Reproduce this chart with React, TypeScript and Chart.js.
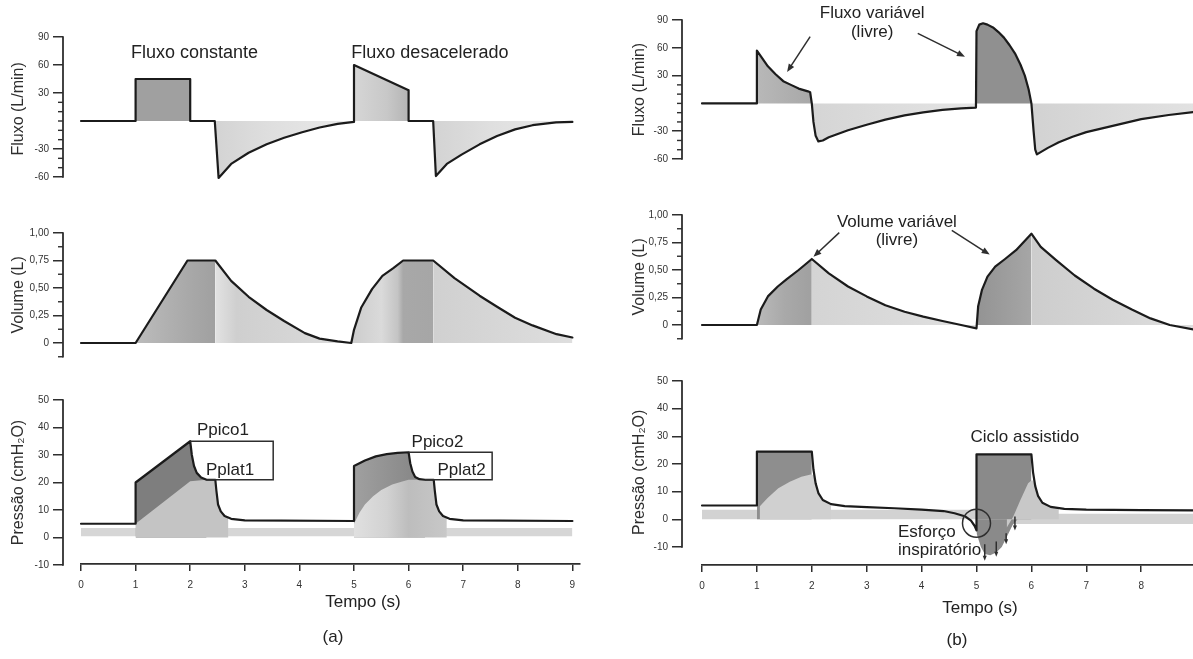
import React, { useEffect, useRef } from 'react';
import { Chart, registerables } from 'chart.js';

Chart.register(...registerables);

const FONT = "'Liberation Sans', Arial, Helvetica, sans-serif";
Chart.defaults.font.family = FONT;
Chart.defaults.color = '#2a2a2a';

// ---------------- tick labels ----------------
const TIME_TICKS = [0, 1, 2, 3, 4, 5, 6, 7, 8, 9];
const FLOW_TICKS = [-60, -30, 30, 60, 90];
const FLOW_MINOR = [-50, -40, -20, -10, 0, 10, 20];
const VOL_TICKS = [0, 0.25, 0.5, 0.75, 1];
const VOL_MINOR = [-0.125, 0.125, 0.375, 0.625, 0.875];
const PRES_TICKS = [-10, 0, 10, 20, 30, 40, 50];

// ---------------- (a) series ----------------
const FLOW_A_T = [0, 1, 1, 2, 2, 2.45, 2.52, 2.75, 3.07, 3.4, 3.72, 4.05, 4.37, 4.7, 5, 5, 6, 6, 6.45, 6.5, 6.7, 6.97, 7.3, 7.62, 7.95, 8.27, 8.7, 9];
const FLOW_A_V = [0, 0, 45, 45, 0, 0, -61, -46, -34, -25, -18, -12, -7, -3, -1, 60, 33, 0, 0, -59, -46, -36, -25, -16, -9, -4.5, -1.5, -1];

const VOL_A_T = [0, 1, 1.95, 2.46, 2.75, 3.07, 3.4, 3.72, 4.1, 4.37, 4.7, 4.95, 5.0, 5.13, 5.33, 5.52, 5.72, 5.9, 6.45, 6.84, 7.3, 7.62, 7.95, 8.27, 8.71, 9.0];
const VOL_A_V = [0, 0, 0.75, 0.75, 0.565, 0.42, 0.3, 0.2, 0.09, 0.04, 0.015, 0, 0.12, 0.32, 0.49, 0.61, 0.68, 0.75, 0.75, 0.59, 0.43, 0.33, 0.23, 0.16, 0.08, 0.05];

const PRES_A_T = [0, 1, 1, 2, 2.03, 2.07, 2.12, 2.2, 2.3, 2.46, 2.48, 2.51, 2.56, 2.63, 2.75, 3.0, 5, 5, 5.2, 5.4, 5.6, 5.8, 6.0, 6.03, 6.07, 6.12, 6.2, 6.3, 6.46, 6.48, 6.51, 6.56, 6.63, 6.75, 7.0, 9.0];
const PRES_A_V = [5, 5, 20, 35, 30, 26, 23.5, 21.8, 21, 21, 17, 12, 9.5, 7.8, 6.8, 6.2, 6, 26, 28, 29.5, 30.3, 30.8, 31, 27, 24, 22, 21.2, 21, 21, 17, 12, 9.5, 7.8, 6.8, 6.2, 6];

const PALV_A1_T = [1, 2, 2.3, 2.46, 2.48, 2.51, 2.56, 2.63, 2.7];
const PALV_A1_V = [5, 20.5, 21, 21, 17, 12, 9.5, 7.8, 7.2];
const PALV_A2_T = [5, 5.1, 5.2, 5.35, 5.5, 5.7, 5.9, 6.0, 6.2, 6.46, 6.48, 6.51, 6.56, 6.63, 6.7];
const PALV_A2_V = [5, 9, 12, 15, 17.3, 19.3, 20.5, 21, 21, 21, 17, 12, 9.5, 7.8, 7.2];

const BAND_A_T = [0, 9];
const BAND_A_LO = [0.5, 0.5];
const BAND_A_HI = [3.5, 3.5];

// ---------------- (b) series ----------------
const FLOW_B_T = [0, 1, 1, 1.07, 1.2, 1.34, 1.48, 1.62, 1.76, 1.93, 1.97, 2.0, 2.03, 2.07, 2.12, 2.2, 2.31, 2.66, 3.0, 3.34, 3.69, 4.03, 4.38, 4.72, 4.99, 5.0, 5.05, 5.12, 5.2, 5.3, 5.4, 5.5, 5.6, 5.7, 5.8, 5.88, 5.95, 6.0, 6.04, 6.07, 6.1, 6.3, 6.5, 6.75, 7.0, 7.5, 8.0, 8.5, 9.0];
const FLOW_B_V = [0, 0, 57, 51, 40, 31.5, 24, 20, 16, 13, 12, 0, -20, -35, -41, -40, -36.5, -29, -23, -17.5, -13, -9.7, -7, -5.4, -4.5, 78, 85, 86.5, 85, 82, 77, 71, 63, 54, 42, 30, 15, 0, -30, -50, -55, -48, -42, -36, -31, -24, -17, -12.5, -9];

const VOL_B_T = [0, 1, 1.07, 1.2, 1.38, 1.55, 1.76, 2.0, 2.31, 2.66, 3.0, 3.34, 3.69, 4.03, 4.38, 4.72, 5.0, 5.03, 5.1, 5.2, 5.34, 5.52, 5.72, 6.0, 6.17, 6.45, 6.79, 7.14, 7.48, 7.83, 8.17, 8.52, 9.0];
const VOL_B_V = [0, 0, 0.14, 0.26, 0.35, 0.42, 0.5, 0.6, 0.47, 0.35, 0.26, 0.18, 0.12, 0.076, 0.036, 0, -0.03, 0.17, 0.32, 0.44, 0.53, 0.6, 0.68, 0.83, 0.71, 0.59, 0.45, 0.33, 0.23, 0.14, 0.06, 0, -0.045];

const PRES_B_T = [0, 1, 1, 2, 2.03, 2.07, 2.12, 2.2, 2.35, 2.6, 3.0, 3.5, 4.0, 4.4, 4.6, 4.8, 4.9, 4.97, 5.0, 5.0, 6.0, 6.03, 6.07, 6.12, 6.2, 6.35, 6.6, 7.0, 8.0, 9.0];
const PRES_B_V = [5, 5, 24.5, 24.5, 18, 13, 9.5, 7, 5.5, 4.8, 4.4, 4.0, 3.5, 3.0, 2.2, 1.0, -0.5, -2.5, -4, 23.5, 23.5, 17, 12, 8.5, 6, 4.5, 3.8, 3.5, 3.3, 3.2];

const PIN_B1_T = [1.05, 1.19, 1.39, 1.6, 1.81, 1.98, 2.03, 2.07, 2.12, 2.2, 2.35];
const PIN_B1_V = [4.6, 7.6, 11.2, 13.6, 15.4, 16.2, 16, 13, 9.5, 7, 5.5];
const DIP_B_T = [5.0, 5.08, 5.15, 5.25, 5.36, 5.46, 5.56, 5.66, 5.75];
const DIP_B_V = [-5, -10, -12.5, -13, -12, -10, -6, -2, 0];
const PIN_B2_T = [5.55, 5.67, 5.8, 5.94, 6.0, 6.03, 6.07, 6.12, 6.2, 6.35, 6.5];
const PIN_B2_V = [-3, 1, 7, 13, 14, 14, 12, 8.5, 6, 4.5, 3.8];

const BAND_B_T = [0, 5, 5, 9];
const BAND_B_LO = [0, 0, -1.7, -1.7];
const BAND_B_HI = [3.5, 3.5, 2, 2];

// ---------------- helpers ----------------
type P = { x: number; y: number };
const pts = (t: number[], v: number[]): P[] => t.map((x, i) => ({ x, y: v[i] }));
const part = (t: number[], v: number[], t0: number, t1: number, sign = 0): P[] =>
  pts(t, v).filter((p) => p.x >= t0 && p.x <= t1 && (sign === 0 || (sign > 0 ? p.y >= 0 : p.y <= 0)));

const shade = (stops: [number, string][] | string) => {
  if (typeof stops === 'string') return stops;
  return (c: any) => {
    const ch = c.chart;
    const xs = ch.scales && ch.scales.x;
    if (!ch.chartArea || !xs) return stops[0][1];
    const x0 = xs.getPixelForValue(stops[0][0]);
    const x1 = xs.getPixelForValue(stops[stops.length - 1][0]);
    const g = ch.ctx.createLinearGradient(x0, 0, x1, 0);
    stops.forEach(([t, col]) => {
      const o = (xs.getPixelForValue(t) - x0) / (x1 - x0 || 1);
      g.addColorStop(Math.min(1, Math.max(0, o)), col);
    });
    return g;
  };
};

const fillDs = (data: P[], color: any, order: number) => ({
  data, borderWidth: 0, borderColor: 'rgba(0,0,0,0)', backgroundColor: shade(color),
  pointRadius: 0, fill: 'origin', order, tension: 0,
});
const lineDs = (data: P[]) => ({
  data, borderColor: '#1b1b1b', borderWidth: 2.2, pointRadius: 0, fill: false,
  order: 0, tension: 0, clip: false, borderJoinStyle: 'round', borderCapStyle: 'round',
});
const bandDs = (t: number[], lo: number[], hi: number[], color: string) => [
  { data: pts(t, lo), borderWidth: 0, pointRadius: 0, fill: false, order: 100, tension: 0 },
  { data: pts(t, hi), borderWidth: 0, borderColor: 'rgba(0,0,0,0)', pointRadius: 0, fill: '-1', backgroundColor: color, order: 100, tension: 0 },
];

// ---------------- layout ----------------
type Col = { left: number; width: number; axisX: number; t0X: number; pps: number; rightX: number; axisY: number; titleX: number };
const COL_A: Col = { left: 0, width: 600, axisX: 63, t0X: 81, pps: 54.6, rightX: 580, axisY: 564, titleX: 19 };
const COL_B: Col = { left: 600, width: 593, axisX: 682, t0X: 702, pps: 54.9, rightX: 1193, axisY: 565, titleX: 640 };

type Txt = { t: number; v: number; s: string; align?: CanvasTextAlign; size?: number };
type Arr = { t1: number; v1: number; t2: number; v2: number; head?: number };
type PanelSpec = {
  key: string; col: Col; axisTopPx: number; axisBotPx: number; axisMax: number; axisMin: number; yMin: number;
  ticks: number[]; minor: number[]; fmt: (v: number) => string; title: string; build: () => any[];
  texts?: Txt[]; arrows?: Arr[]; polylines?: number[][][]; circles?: { t: number; v: number; r: number }[];
};

const fmtInt = (v: number) => String(v);
const fmtVol = (v: number) => (v === 0 ? '0' : v.toFixed(2).replace('.', ','));

const PANELS: PanelSpec[] = [
  {
    key: 'aflow', col: COL_A, axisTopPx: 37, axisBotPx: 177, axisMax: 90, axisMin: -60, yMin: -64,
    ticks: FLOW_TICKS, minor: FLOW_MINOR, fmt: fmtInt, title: 'Fluxo (L/min)',
    build: () => [
      fillDs(part(FLOW_A_T, FLOW_A_V, 1, 2, 1), '#a0a0a0', 20),
      fillDs(part(FLOW_A_T, FLOW_A_V, 5, 6, 1), [[5, '#d6d6d6'], [5.6, '#c8c8c8'], [6, '#b4b4b4']], 20),
      fillDs(part(FLOW_A_T, FLOW_A_V, 2, 5, -1), [[2.45, '#d3d3d3'], [3.5, '#dfdfdf'], [5, '#eaeaea']], 20),
      fillDs(part(FLOW_A_T, FLOW_A_V, 6, 9, -1), [[6.45, '#d3d3d3'], [7.5, '#dfdfdf'], [9, '#eaeaea']], 20),
      lineDs(pts(FLOW_A_T, FLOW_A_V)),
    ],
    texts: [
      { t: 2.08, v: 73, s: 'Fluxo constante', size: 18 },
      { t: 6.39, v: 73, s: 'Fluxo desacelerado', size: 18 },
    ],
  },
  {
    key: 'avol', col: COL_A, axisTopPx: 233, axisBotPx: 356.75, axisMax: 1, axisMin: -0.125, yMin: -0.125,
    ticks: VOL_TICKS, minor: VOL_MINOR, fmt: fmtVol, title: 'Volume (L)',
    build: () => [
      fillDs(part(VOL_A_T, VOL_A_V, 1, 2.46), [[1, '#bcbcbc'], [1.95, '#a9a9a9'], [2.46, '#a0a0a0']], 20),
      fillDs(part(VOL_A_T, VOL_A_V, 2.46, 4.95), [[2.46, '#e2e2e2'], [2.85, '#cfcfcf'], [4.95, '#dcdcdc']], 20),
      fillDs(part(VOL_A_T, VOL_A_V, 4.95, 6.45), [[4.95, '#cccccc'], [5.5, '#dadada'], [5.8, '#c4c4c4'], [5.9, '#a8a8a8'], [6.45, '#a6a6a6']], 20),
      fillDs(part(VOL_A_T, VOL_A_V, 6.45, 9), [[6.45, '#d0d0d0'], [9, '#dedede']], 20),
      lineDs(pts(VOL_A_T, VOL_A_V)),
    ],
  },
  {
    key: 'apres', col: COL_A, axisTopPx: 400, axisBotPx: 565, axisMax: 50, axisMin: -10, yMin: -10,
    ticks: PRES_TICKS, minor: [], fmt: fmtInt, title: 'Pressão (cmH₂O)',
    build: () => [
      ...bandDs(BAND_A_T, BAND_A_LO, BAND_A_HI, '#d6d6d6'),
      fillDs(part(PRES_A_T, PRES_A_V, 1, 2.3, 1), '#7e7e7e', 50),
      fillDs(part(PRES_A_T, PRES_A_V, 5, 6.3, 1), [[5, '#a0a0a0'], [6, '#8a8a8a']], 50),
      fillDs(pts(PALV_A1_T, PALV_A1_V), '#c4c4c4', 40),
      fillDs(pts(PALV_A2_T, PALV_A2_V), [[5, '#e0e0e0'], [5.6, '#d2d2d2'], [6, '#bdbdbd'], [6.7, '#c8c8c8']], 40),
      lineDs(pts(PRES_A_T, PRES_A_V)),
    ],
    polylines: [
      [[2, 35], [3.52, 35], [3.52, 21], [2.3, 21]],
      [[6, 31], [7.53, 31], [7.53, 21], [6.3, 21]],
    ],
    texts: [
      { t: 2.6, v: 39, s: 'Ppico1', size: 17 },
      { t: 2.73, v: 24.5, s: 'Pplat1', size: 17 },
      { t: 6.53, v: 34.7, s: 'Ppico2', size: 17 },
      { t: 6.97, v: 24.5, s: 'Pplat2', size: 17 },
    ],
  },
  {
    key: 'bflow', col: COL_B, axisTopPx: 20, axisBotPx: 159, axisMax: 90, axisMin: -60, yMin: -60,
    ticks: FLOW_TICKS, minor: FLOW_MINOR, fmt: fmtInt, title: 'Fluxo (L/min)',
    build: () => [
      fillDs(part(FLOW_B_T, FLOW_B_V, 1, 2, 1), [[1, '#b8b8b8'], [2, '#a8a8a8']], 20),
      fillDs(part(FLOW_B_T, FLOW_B_V, 2, 5, -1), [[2, '#d5d5d5'], [5, '#e4e4e4']], 20),
      fillDs(part(FLOW_B_T, FLOW_B_V, 5, 6, 1), '#909090', 20),
      fillDs(part(FLOW_B_T, FLOW_B_V, 6, 9, -1), [[6, '#d2d2d2'], [9, '#e2e2e2']], 20),
      lineDs(pts(FLOW_B_T, FLOW_B_V)),
    ],
    texts: [
      { t: 3.1, v: 97, s: 'Fluxo variável', size: 17 },
      { t: 3.1, v: 77, s: '(livre)', size: 17 },
    ],
    arrows: [
      { t1: 1.97, v1: 72, t2: 1.55, v2: 34 },
      { t1: 3.93, v1: 75.6, t2: 4.79, v2: 50.4 },
    ],
  },
  {
    key: 'bvol', col: COL_B, axisTopPx: 215, axisBotPx: 338.75, axisMax: 1, axisMin: -0.125, yMin: -0.125,
    ticks: VOL_TICKS, minor: VOL_MINOR, fmt: fmtVol, title: 'Volume (L)',
    build: () => [
      fillDs(part(VOL_B_T, VOL_B_V, 1, 2), [[1, '#bababa'], [1.5, '#a9a9a9'], [2, '#a0a0a0']], 20),
      fillDs(part(VOL_B_T, VOL_B_V, 2, 5), [[2, '#d4d4d4'], [5, '#e0e0e0']], 20),
      fillDs(part(VOL_B_T, VOL_B_V, 5, 6), [[5, '#939393'], [6, '#a6a6a6']], 20),
      fillDs(part(VOL_B_T, VOL_B_V, 6, 9), [[6, '#cdcdcd'], [9, '#dedede']], 20),
      lineDs(pts(VOL_B_T, VOL_B_V)),
    ],
    texts: [
      { t: 3.55, v: 0.936, s: 'Volume variável', size: 17 },
      { t: 3.55, v: 0.77, s: '(livre)', size: 17 },
    ],
    arrows: [
      { t1: 2.5, v1: 0.84, t2: 2.03, v2: 0.62 },
      { t1: 4.55, v1: 0.86, t2: 5.24, v2: 0.64 },
    ],
  },
  {
    key: 'bpres', col: COL_B, axisTopPx: 381, axisBotPx: 547, axisMax: 50, axisMin: -10, yMin: -16,
    ticks: PRES_TICKS, minor: [], fmt: fmtInt, title: 'Pressão (cmH₂O)',
    build: () => [
      ...bandDs(BAND_B_T, BAND_B_LO, BAND_B_HI, '#d2d2d2'),
      fillDs(part(PRES_B_T, PRES_B_V, 1, 2, 1), '#8e8e8e', 50),
      fillDs(part(PRES_B_T, PRES_B_V, 5, 6, 1), '#8a8a8a', 50),
      fillDs(pts(DIP_B_T, DIP_B_V), '#8a8a8a', 50),
      fillDs(pts(PIN_B1_T, PIN_B1_V), '#d0d0d0', 40),
      fillDs(pts(PIN_B2_T, PIN_B2_V), '#c8c8c8', 40),
      lineDs(pts(PRES_B_T, PRES_B_V)),
    ],
    texts: [
      { t: 5.88, v: 29.8, s: 'Ciclo assistido', size: 17 },
      { t: 3.57, v: -4.8, s: 'Esforço', size: 17, align: 'left' },
      { t: 3.57, v: -11.3, s: 'inspiratório', size: 17, align: 'left' },
    ],
    circles: [{ t: 5.0, v: -1.4, r: 14 }],
    arrows: [
      { t1: 5.15, v1: -9, t2: 5.15, v2: -15, head: 5 },
      { t1: 5.36, v1: -8, t2: 5.36, v2: -13.5, head: 5 },
      { t1: 5.54, v1: -5, t2: 5.54, v2: -9, head: 5 },
      { t1: 5.7, v1: 1, t2: 5.7, v2: -4, head: 5 },
    ],
  },
];

function notesPlugin(p: PanelSpec) {
  return {
    id: 'notes_' + p.key,
    afterDatasetsDraw(chart: any) {
      const { ctx, chartArea } = chart;
      const xs = chart.scales.x;
      const ys = chart.scales.y;
      const X = (t: number) => xs.getPixelForValue(t);
      const Y = (v: number) => ys.getPixelForValue(v);
      ctx.save();
      ctx.strokeStyle = '#2e2e2e';
      ctx.fillStyle = '#2e2e2e';
      // y axis line (only over the labelled range)
      ctx.lineWidth = 1.8;
      ctx.beginPath();
      ctx.moveTo(chartArea.left, Y(p.axisMax) - 0.8);
      ctx.lineTo(chartArea.left, Y(p.axisMin) + 0.8);
      ctx.stroke();
      ctx.lineWidth = 1.4;
      p.minor.forEach((v) => {
        ctx.beginPath();
        ctx.moveTo(chartArea.left - 5, Y(v));
        ctx.lineTo(chartArea.left, Y(v));
        ctx.stroke();
      });
      // bracket lines
      ctx.lineWidth = 1.5;
      (p.polylines || []).forEach((pl) => {
        ctx.beginPath();
        pl.forEach(([t, v], i) => (i ? ctx.lineTo(X(t), Y(v)) : ctx.moveTo(X(t), Y(v))));
        ctx.stroke();
      });
      (p.circles || []).forEach((c) => {
        ctx.beginPath();
        ctx.arc(X(c.t), Y(c.v), c.r, 0, Math.PI * 2);
        ctx.stroke();
      });
      (p.arrows || []).forEach((a) => {
        const x1 = X(a.t1), y1 = Y(a.v1), x2 = X(a.t2), y2 = Y(a.v2);
        const h = a.head || 8;
        const ang = Math.atan2(y2 - y1, x2 - x1);
        ctx.lineWidth = 1.5;
        ctx.beginPath();
        ctx.moveTo(x1, y1);
        ctx.lineTo(x2 - Math.cos(ang) * h * 0.6, y2 - Math.sin(ang) * h * 0.6);
        ctx.stroke();
        ctx.beginPath();
        ctx.moveTo(x2, y2);
        ctx.lineTo(x2 - h * Math.cos(ang) + h * 0.4 * Math.sin(ang), y2 - h * Math.sin(ang) - h * 0.4 * Math.cos(ang));
        ctx.lineTo(x2 - h * Math.cos(ang) - h * 0.4 * Math.sin(ang), y2 - h * Math.sin(ang) + h * 0.4 * Math.cos(ang));
        ctx.closePath();
        ctx.fill();
      });
      ctx.fillStyle = '#222';
      ctx.textBaseline = 'middle';
      (p.texts || []).forEach((tx) => {
        ctx.font = `${tx.size || 17}px ${FONT}`;
        ctx.textAlign = tx.align || 'center';
        ctx.fillText(tx.s, X(tx.t), Y(tx.v));
      });
      ctx.restore();
    },
  };
}

type Spec = { key: string; left: number; top: number; width: number; height: number; make: () => any };

function panelSpec(p: PanelSpec): Spec {
  const c = p.col;
  const ppu = (p.axisBotPx - p.axisTopPx) / (p.axisMax - p.axisMin);
  const top = p.axisTopPx;
  const bottom = p.axisBotPx + (p.axisMin - p.yMin) * ppu;
  const canvasTop = Math.max(0, Math.floor(top - 40));
  const height = Math.ceil(bottom + 20 - canvasTop);
  const padTop = top - canvasTop;
  const padBottom = canvasTop + height - bottom;
  const xMin = (c.axisX - c.t0X) / c.pps;
  const xMax = (c.rightX - c.t0X) / c.pps;
  return {
    key: p.key, left: c.left, top: canvasTop, width: c.width, height,
    make: () => ({
      type: 'line',
      data: { datasets: p.build() },
      options: {
        responsive: false, animation: false, devicePixelRatio: 1, events: [],
        layout: { padding: { left: 0, right: c.left + c.width - c.rightX, top: padTop, bottom: padBottom } },
        plugins: { legend: { display: false }, tooltip: { enabled: false } },
        scales: {
          x: { type: 'linear', display: false, min: xMin, max: xMax },
          y: {
            type: 'linear', min: p.yMin, max: p.axisMax,
            afterFit: (s: any) => { s.width = c.axisX - c.left; },
            afterBuildTicks: (s: any) => { s.ticks = p.ticks.map((v) => ({ value: v })); },
            ticks: { font: { size: 10 }, color: '#333', padding: 4, autoSkip: false, callback: (v: any) => p.fmt(Number(v)) },
            grid: { drawOnChartArea: false, drawTicks: true, tickLength: 10, color: '#2e2e2e', lineWidth: 1.5 },
            border: { display: false },
            title: { display: true, text: p.title, font: { size: 16 }, color: '#2e2e2e', padding: { top: c.titleX - c.left - 9.6, bottom: 0 } },
          },
        },
      },
      plugins: [notesPlugin(p)],
    }),
  };
}

function axisSpec(key: string, c: Col): Spec {
  const height = 70;
  const canvasTop = c.axisY - 20;
  const xMax = (c.rightX - c.t0X) / c.pps;
  return {
    key, left: c.left, top: canvasTop, width: c.width, height,
    make: () => ({
      type: 'line',
      data: { datasets: [] },
      options: {
        responsive: false, animation: false, devicePixelRatio: 1, events: [],
        layout: { padding: { left: c.t0X - c.left, right: c.left + c.width - c.rightX, top: 5, bottom: 0 } },
        plugins: { legend: { display: false }, tooltip: { enabled: false } },
        scales: {
          x: {
            type: 'linear', position: 'bottom', min: 0, max: xMax,
            afterFit: (s: any) => { s.height = 50; },
            afterBuildTicks: (s: any) => { s.ticks = TIME_TICKS.filter((v) => v <= xMax + 1e-9).map((v) => ({ value: v })); },
            ticks: { font: { size: 10 }, color: '#333', padding: 8, maxRotation: 0, autoSkip: false },
            grid: { drawOnChartArea: false, drawTicks: true, tickLength: 7, color: '#2e2e2e', lineWidth: 1.5 },
            border: { display: true, color: '#2e2e2e', width: 1.8 },
          },
          y: { display: false, min: 0, max: 1 },
        },
      },
    }),
  };
}

const SPECS: Spec[] = [
  ...PANELS.map(panelSpec),
  axisSpec('axa', COL_A),
  axisSpec('axb', COL_B),
];

const CAPTIONS = [
  { text: 'Tempo (s)', x: 363, y: 602 },
  { text: '(a)', x: 333, y: 637 },
  { text: 'Tempo (s)', x: 980, y: 608 },
  { text: '(b)', x: 957, y: 640 },
];

function CanvasChart({ spec }: { spec: Spec }) {
  const ref = useRef<HTMLCanvasElement>(null);
  useEffect(() => {
    const chart = new Chart(ref.current as HTMLCanvasElement, spec.make());
    return () => chart.destroy();
  }, [spec]);
  return (
    <canvas
      ref={ref}
      width={spec.width}
      height={spec.height}
      style={{ position: 'absolute', left: spec.left, top: spec.top, width: spec.width, height: spec.height }}
    />
  );
}

export default function App() {
  return (
    <div style={{ position: 'absolute', left: 0, top: 0, width: 1193, height: 659, background: '#fff', overflow: 'hidden' }}>
      {SPECS.map((s) => (
        <CanvasChart key={s.key} spec={s} />
      ))}
      {CAPTIONS.map((c, i) => (
        <div
          key={i}
          style={{
            position: 'absolute', left: c.x, top: c.y, transform: 'translate(-50%, -50%)',
            fontFamily: FONT, fontSize: 17, color: '#222', whiteSpace: 'nowrap',
          }}
        >
          {c.text}
        </div>
      ))}
    </div>
  );
}
